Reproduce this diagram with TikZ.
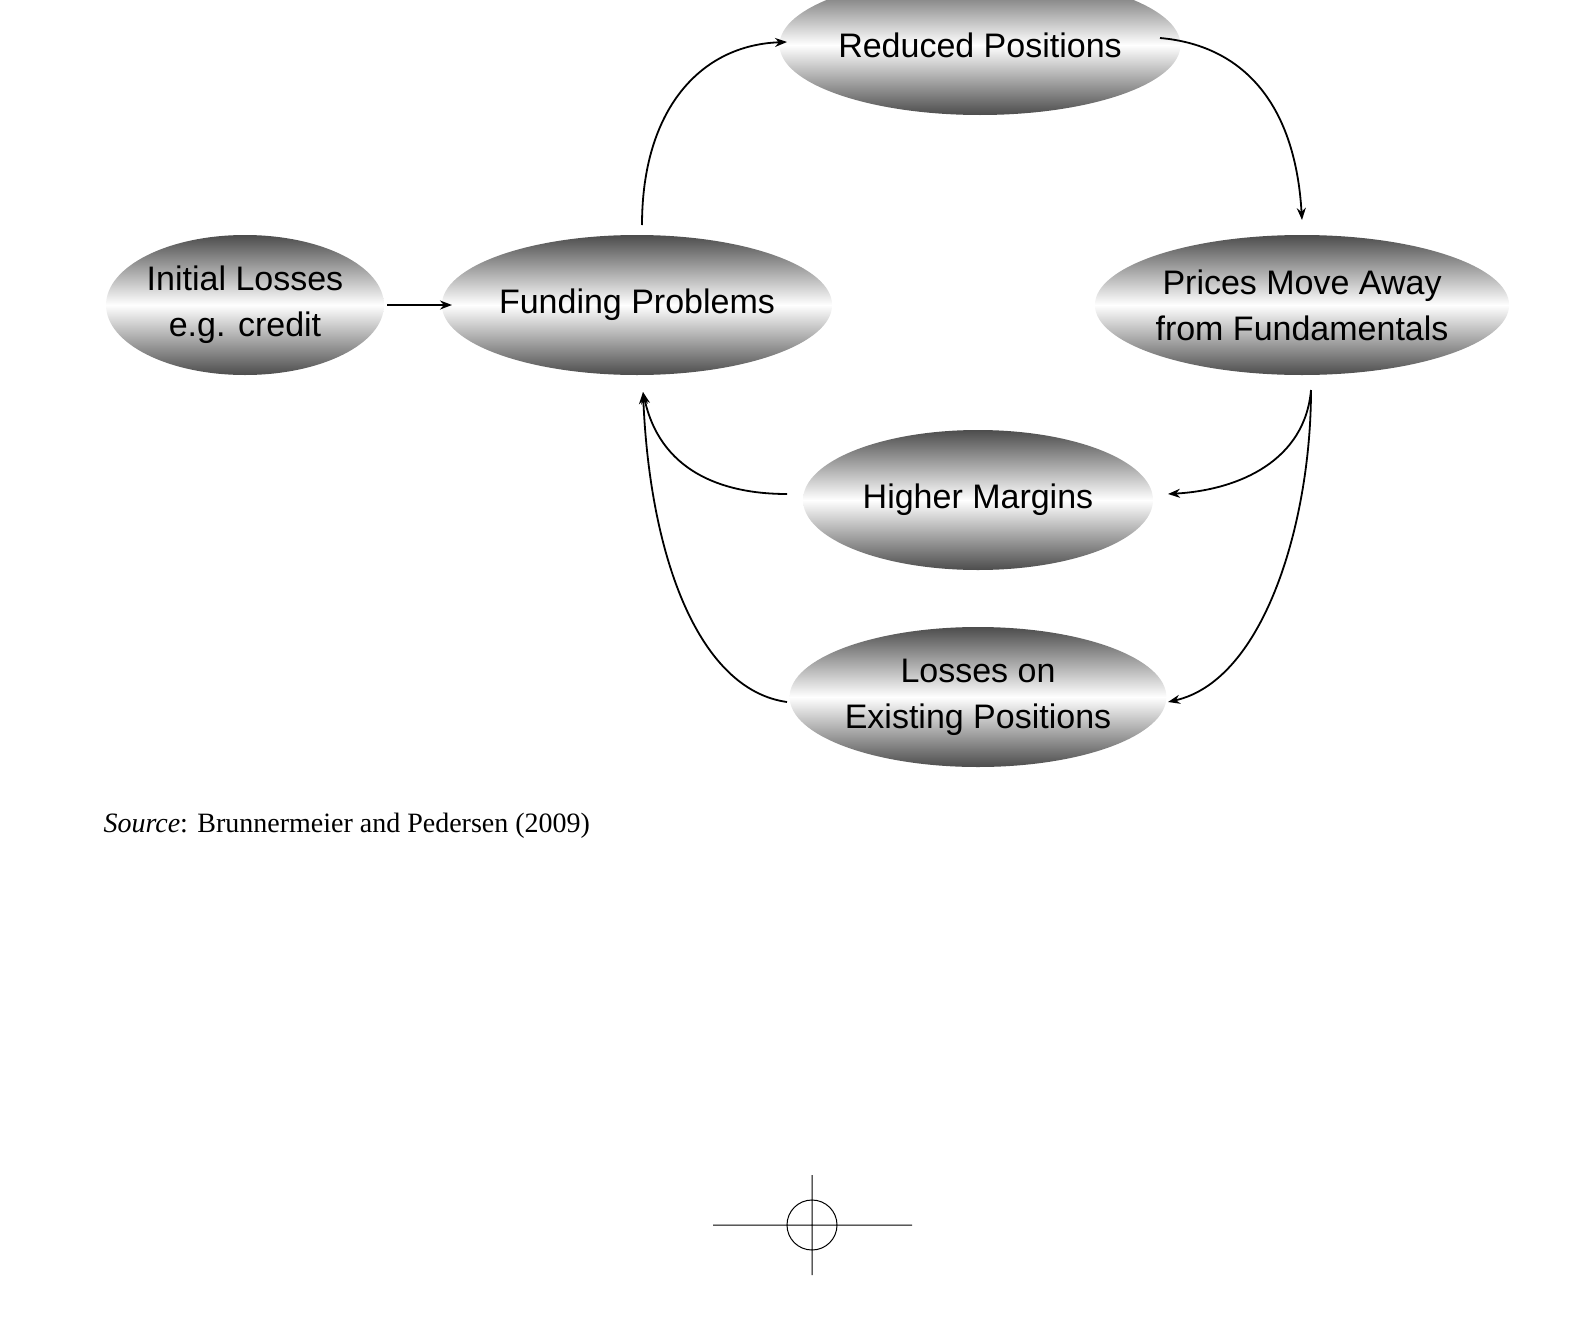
\documentclass[tikz,border=0pt]{standalone}
\usepackage{fontspec}
\setmainfont{Liberation Sans}
\newfontfamily\capfont{Liberation Serif}
\usetikzlibrary{arrows.meta,shapes.geometric}
\begin{document}
\begin{tikzpicture}[x=1pt,y=-1pt,
  oval/.style={ellipse, minimum width=350pt, minimum height=140pt, align=center, inner sep=0pt,
    top color=black!70, bottom color=black!70, middle color=white, font=\fontsize{34}{46}\selectfont},
  arr/.style={-{Stealth[length=12pt,width=9pt]}, line width=1.8pt}]
\useasboundingbox (0,0) rectangle (1577,1325);
\begin{scope}
\clip (0,0) rectangle (1577,1325);
\node[oval] (red) at (980,45) {Reduced Positions};
\end{scope}
\node[oval, minimum width=275pt] (ini) at (245,305) {Initial Losses\\e.g. credit};
\node[oval] (fun) at (637,305) {Funding Problems};
\node[oval] (pri) at (1302,305) {Prices Move Away\\from Fundamentals};
\node[oval] (hig) at (978,500) {Higher Margins};
\node[oval] (los) at (978,697) {Losses on\\Existing Positions};
\coordinate (funT) at (642,225);
\coordinate (funB) at (643,392);
\coordinate (redL) at (787,42);
\coordinate (redR) at (1160,38);
\coordinate (priT) at (1302,220);
\coordinate (priB) at (1311,390);
\coordinate (higL) at (787,494);
\coordinate (higR) at (1168,494);
\coordinate (losL) at (787,702);
\coordinate (losR) at (1168,702);
\draw[arr] (387,305) -- (452,305);
\draw[arr] (funT) .. controls (642,110) and (700,45) .. (redL);
\draw[arr] (redR) .. controls (1240,45) and (1295,100) .. (priT);
\draw[arr] (priB) .. controls (1305,460) and (1240,490) .. (higR);
\draw[arr] (priB) .. controls (1311,520) and (1265,680) .. (losR);
\draw[arr] (higL) .. controls (720,494) and (660,470) .. (funB);
\draw[arr] (losL) .. controls (700,690) and (650,560) .. (funB);
\node[anchor=west, font=\capfont\fontsize{28}{34}\selectfont] (src) at (100,826) {\textit{Source}: Brunnermeier and Pedersen (2009)};
\draw[line width=1pt] (713,1225) -- (912,1225) (812,1175) -- (812,1275) (812,1225) circle (25);
\end{tikzpicture}
\end{document}
